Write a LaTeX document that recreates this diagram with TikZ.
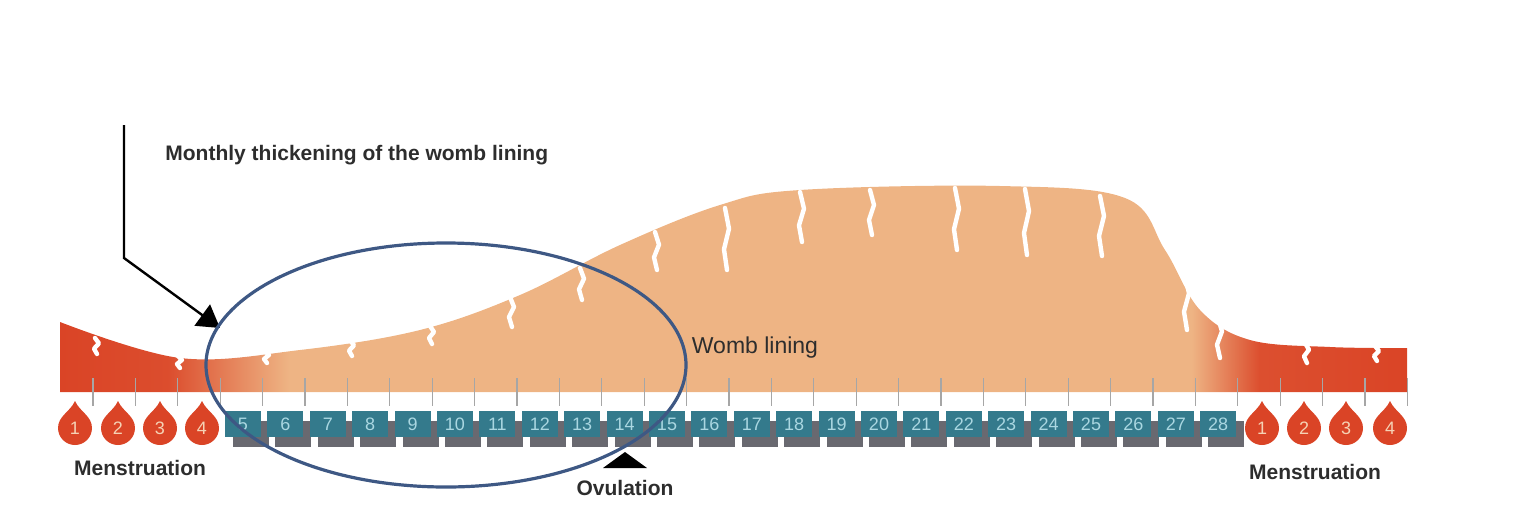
\documentclass[tikz,border=0pt]{standalone}
\usepackage{fontspec}
\setmainfont{Liberation Sans}
\usetikzlibrary{arrows.meta}
\definecolor{lred}{RGB}{218,68,38}
\definecolor{peach}{RGB}{238,180,132}
\definecolor{teal}{RGB}{52,122,140}
\definecolor{boxtxt}{RGB}{170,215,225}
\definecolor{shad}{RGB}{105,105,112}
\definecolor{ellc}{RGB}{62,88,132}
\definecolor{txt}{RGB}{45,45,45}
\pgfdeclarehorizontalshading{lining}{100bp}{color(0bp)=(lred); color(25bp)=(lred); color(29bp)=(lred!92!peach); color(33.5bp)=(peach); color(67bp)=(peach); color(69.5bp)=(lred!90!peach); color(75bp)=(lred); color(100bp)=(lred)}
\tikzset{
 daybox/.style={fill=teal,minimum width=18pt,minimum height=13pt,inner sep=0pt,text=boxtxt,font=\fontsize{9}{9}\selectfont},
 shadbox/.style={fill=shad,minimum width=18pt,minimum height=13pt,inner sep=0pt},
 droptxt/.style={text=peach!60!white,font=\fontsize{9}{9}\selectfont},
 crack/.style={white,line width=2.2pt,line cap=round,line join=round},
 tick/.style={gray!70,line width=0.6pt},
 lbl/.style={text=txt,font=\bfseries\fontsize{10.5}{10.5}\selectfont,inner sep=0pt}
}
\begin{document}
\begin{tikzpicture}[x=0.5pt,y=-0.5pt]
\useasboundingbox (0,0) rectangle (1528,510);
% lining
\shade[shading=lining] (60,392) -- plot[smooth,tension=0.6] coordinates {(60,322) (180,358) (300,350) (420,330) (520,295) (620,245) (720,205) (800,190) (1000,186) (1125,198) (1165,250) (1200,310) (1250,340) (1330,347) (1407,348)} -- (1407,392) -- cycle;
\foreach \x/\y/\l in {95/338/16,178/356/12,265/351/12,350/340/16,430/326/18,510/297/30,580/268/32,655/232/38,725/208/62,800/192/50,870/190/45,955/188/62,1025/189/66,1100/196/60,1185/275/55,1218/318/40,1305/343/20,1375/346/15}
  \draw[crack] (\x,\y) -- ++(4,\l/3) -- ++(-5,\l/3) -- ++(3,\l/3);
% ticks
\foreach \k in {0,...,31} \draw[tick] ({93+42.4*\k},378) -- ({93+42.4*\k},406);
% day boxes
\foreach \n in {5,...,28}{
  \node[shadbox] (s\n) at ({251+42.4*(\n-5)},434) {};
  \node[daybox] (d\n) at ({243+42.4*(\n-5)},424) {\n};
}
% drops
\foreach \i/\cx in {1/75,2/118,3/160,4/202,1/1262,2/1304,3/1346,4/1390}{
  \fill[lred] (\cx,401) .. controls (\cx+5,412) and (\cx+17,416) .. (\cx+17,428) arc[start angle=0,end angle=180,radius=17] .. controls (\cx-17,416) and (\cx-5,412) .. cycle;
  \node[droptxt] (dr\i-\cx) at (\cx,428) {\i};
}
% texts
\node[lbl,anchor=west] (title) at (165,155) {Monthly thickening of the womb lining};
\node[text=txt,font=\fontsize{11.5}{11.5}\selectfont,inner sep=0pt] (womb) at (755,348) {Womb lining};
\node[lbl] (menl) at (140,468) {Menstruation};
\node[lbl] (menr) at (1315,472) {Menstruation};
\node[lbl] (ovu) at (625,488) {Ovulation};
\fill (625,452) coordinate (ovt) -- (647,468) -- (603,468) -- cycle;
% arrow
\coordinate (a0) at (124,125);
\coordinate (a1) at (124,258);
\coordinate (a2) at (220,328);
\draw[line width=1.2pt,-{Triangle[length=11pt,width=13pt]}] (a0) -- (a1) -- (a2);
% ellipse
\draw[ellc,line width=1.6pt] (446,365) ellipse [x radius=240,y radius=122];
\end{tikzpicture}
\end{document}
